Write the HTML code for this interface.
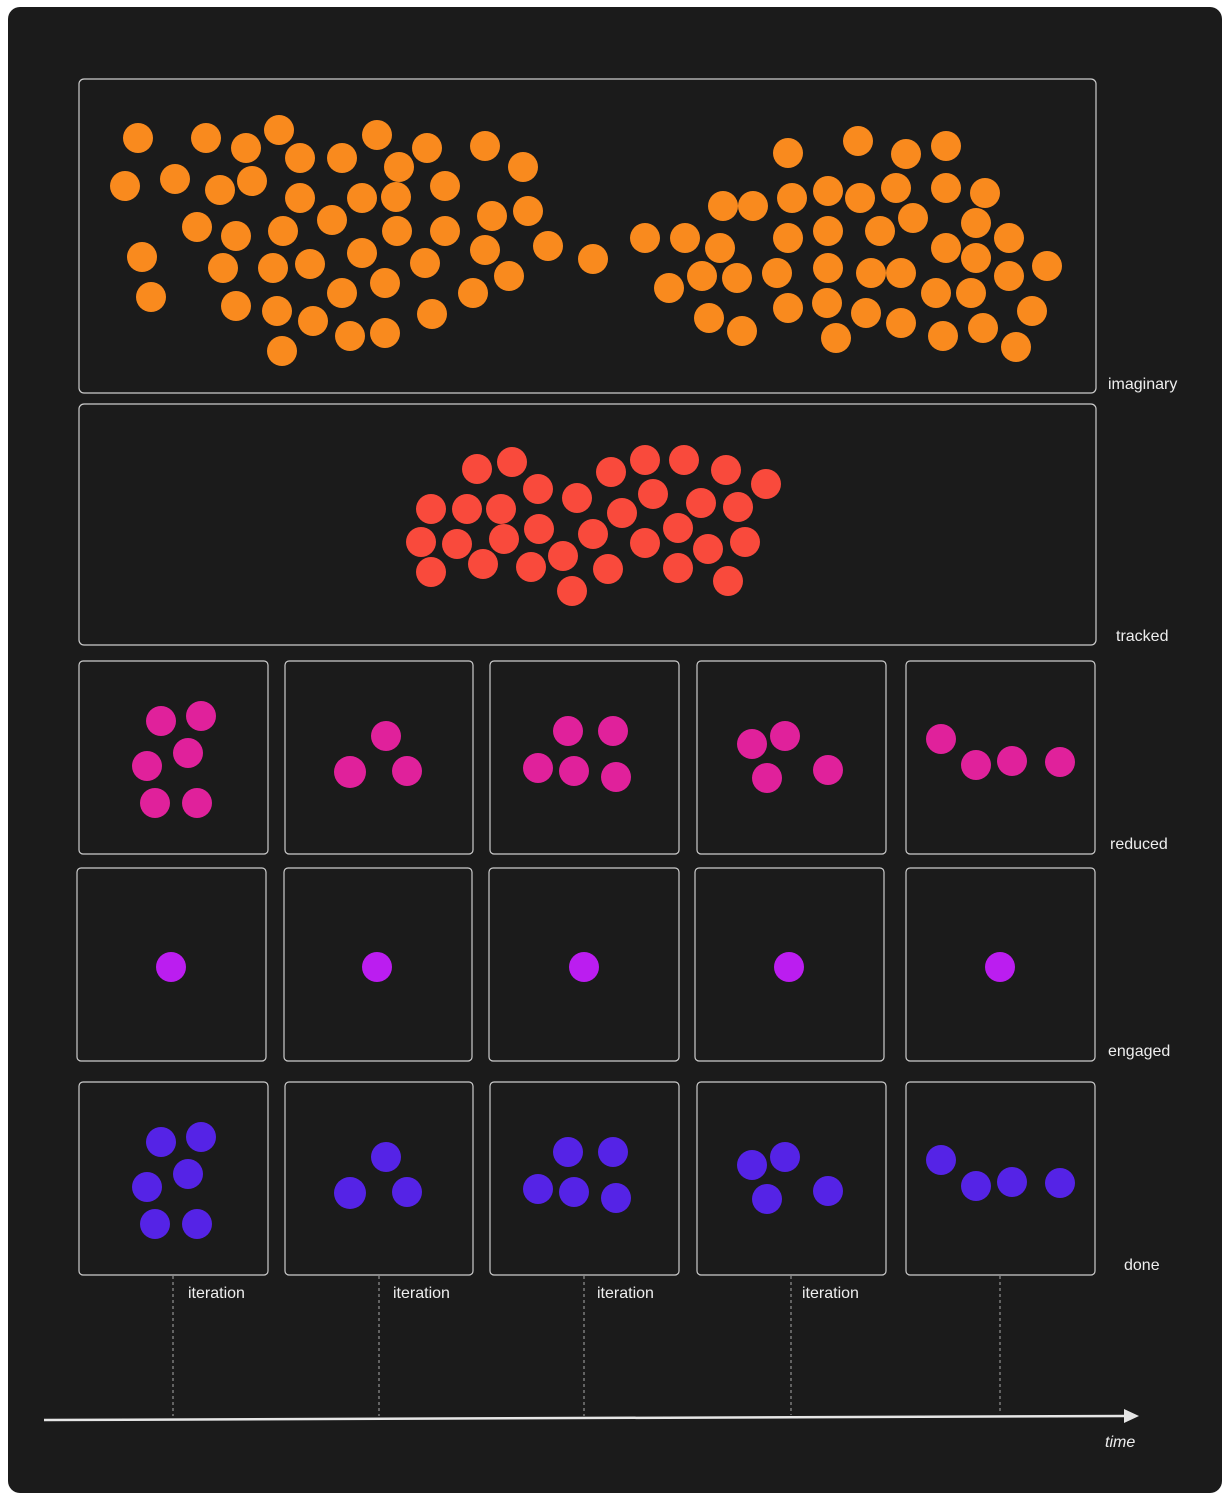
<!DOCTYPE html><html><head><style>body{margin:0;background:#fff}svg{display:block}text{font-family:"Liberation Sans",sans-serif;fill:#eee;font-size:16px}</style></head><body>
<svg width="1227" height="1497" viewBox="0 0 1227 1497">
<rect x="8" y="7" width="1214" height="1486" rx="12" fill="#1b1b1b"/>
<g fill="none" stroke="#ccc" stroke-width="1.2">
<rect x="79" y="79" width="1017" height="314" rx="5"/>
<rect x="79" y="404" width="1017" height="241" rx="5"/>
<rect x="79" y="661" width="189" height="193" rx="4"/><rect x="285" y="661" width="188" height="193" rx="4"/><rect x="490" y="661" width="189" height="193" rx="4"/><rect x="697" y="661" width="189" height="193" rx="4"/><rect x="906" y="661" width="189" height="193" rx="4"/>
<rect x="77" y="868" width="189" height="193" rx="4"/><rect x="284" y="868" width="188" height="193" rx="4"/><rect x="489" y="868" width="190" height="193" rx="4"/><rect x="695" y="868" width="189" height="193" rx="4"/><rect x="906" y="868" width="189" height="193" rx="4"/>
<rect x="79" y="1082" width="189" height="193" rx="4"/><rect x="285" y="1082" width="188" height="193" rx="4"/><rect x="490" y="1082" width="189" height="193" rx="4"/><rect x="697" y="1082" width="189" height="193" rx="4"/><rect x="906" y="1082" width="189" height="193" rx="4"/>
</g>
<g fill="#f98a1e">
<circle cx="138" cy="138" r="15"/><circle cx="206" cy="138" r="15"/><circle cx="246" cy="148" r="15"/><circle cx="279" cy="130" r="15"/><circle cx="300" cy="158" r="15"/><circle cx="342" cy="158" r="15"/><circle cx="377" cy="135" r="15"/><circle cx="399" cy="167" r="15"/><circle cx="427" cy="148" r="15"/><circle cx="485" cy="146" r="15"/><circle cx="523" cy="167" r="15"/><circle cx="125" cy="186" r="15"/><circle cx="175" cy="179" r="15"/><circle cx="220" cy="190" r="15"/><circle cx="252" cy="181" r="15"/><circle cx="300" cy="198" r="15"/><circle cx="362" cy="198" r="15"/><circle cx="396" cy="197" r="15"/><circle cx="445" cy="186" r="15"/><circle cx="197" cy="227" r="15"/><circle cx="236" cy="236" r="15"/><circle cx="283" cy="231" r="15"/><circle cx="332" cy="220" r="15"/><circle cx="397" cy="231" r="15"/><circle cx="445" cy="231" r="15"/><circle cx="492" cy="216" r="15"/><circle cx="528" cy="211" r="15"/><circle cx="142" cy="257" r="15"/><circle cx="223" cy="268" r="15"/><circle cx="273" cy="268" r="15"/><circle cx="310" cy="264" r="15"/><circle cx="362" cy="253" r="15"/><circle cx="425" cy="263" r="15"/><circle cx="485" cy="250" r="15"/><circle cx="548" cy="246" r="15"/><circle cx="593" cy="259" r="15"/><circle cx="151" cy="297" r="15"/><circle cx="236" cy="306" r="15"/><circle cx="277" cy="311" r="15"/><circle cx="313" cy="321" r="15"/><circle cx="342" cy="293" r="15"/><circle cx="385" cy="283" r="15"/><circle cx="350" cy="336" r="15"/><circle cx="385" cy="333" r="15"/><circle cx="432" cy="314" r="15"/><circle cx="473" cy="293" r="15"/><circle cx="509" cy="276" r="15"/><circle cx="282" cy="351" r="15"/>
<circle cx="788" cy="153" r="15"/><circle cx="858" cy="141" r="15"/><circle cx="906" cy="154" r="15"/><circle cx="946" cy="146" r="15"/><circle cx="723" cy="206" r="15"/><circle cx="753" cy="206" r="15"/><circle cx="792" cy="198" r="15"/><circle cx="828" cy="191" r="15"/><circle cx="860" cy="198" r="15"/><circle cx="896" cy="188" r="15"/><circle cx="946" cy="188" r="15"/><circle cx="985" cy="193" r="15"/><circle cx="645" cy="238" r="15"/><circle cx="685" cy="238" r="15"/><circle cx="720" cy="248" r="15"/><circle cx="788" cy="238" r="15"/><circle cx="828" cy="231" r="15"/><circle cx="880" cy="231" r="15"/><circle cx="913" cy="218" r="15"/><circle cx="976" cy="223" r="15"/><circle cx="1009" cy="238" r="15"/><circle cx="946" cy="248" r="15"/><circle cx="702" cy="276" r="15"/><circle cx="737" cy="278" r="15"/><circle cx="777" cy="273" r="15"/><circle cx="828" cy="268" r="15"/><circle cx="871" cy="273" r="15"/><circle cx="901" cy="273" r="15"/><circle cx="976" cy="258" r="15"/><circle cx="1009" cy="276" r="15"/><circle cx="1047" cy="266" r="15"/><circle cx="669" cy="288" r="15"/><circle cx="709" cy="318" r="15"/><circle cx="742" cy="331" r="15"/><circle cx="788" cy="308" r="15"/><circle cx="827" cy="303" r="15"/><circle cx="866" cy="313" r="15"/><circle cx="901" cy="323" r="15"/><circle cx="936" cy="293" r="15"/><circle cx="971" cy="293" r="15"/><circle cx="943" cy="336" r="15"/><circle cx="983" cy="328" r="15"/><circle cx="1016" cy="347" r="15"/><circle cx="1032" cy="311" r="15"/><circle cx="836" cy="338" r="15"/>
</g>
<g fill="#f94a3c">
<circle cx="477" cy="469" r="15"/><circle cx="512" cy="462" r="15"/><circle cx="538" cy="489" r="15"/><circle cx="577" cy="498" r="15"/><circle cx="611" cy="472" r="15"/><circle cx="645" cy="460" r="15"/><circle cx="684" cy="460" r="15"/><circle cx="726" cy="470" r="15"/><circle cx="766" cy="484" r="15"/><circle cx="431" cy="509" r="15"/><circle cx="467" cy="509" r="15"/><circle cx="501" cy="509" r="15"/><circle cx="653" cy="494" r="15"/><circle cx="622" cy="513" r="15"/><circle cx="701" cy="503" r="15"/><circle cx="738" cy="507" r="15"/><circle cx="421" cy="542" r="15"/><circle cx="457" cy="544" r="15"/><circle cx="504" cy="539" r="15"/><circle cx="539" cy="529" r="15"/><circle cx="593" cy="534" r="15"/><circle cx="645" cy="543" r="15"/><circle cx="678" cy="528" r="15"/><circle cx="708" cy="549" r="15"/><circle cx="745" cy="542" r="15"/><circle cx="431" cy="572" r="15"/><circle cx="483" cy="564" r="15"/><circle cx="531" cy="567" r="15"/><circle cx="563" cy="556" r="15"/><circle cx="608" cy="569" r="15"/><circle cx="678" cy="568" r="15"/><circle cx="728" cy="581" r="15"/><circle cx="572" cy="591" r="15"/>
</g>
<g fill="#e0219b">
<circle cx="161" cy="721" r="15"/><circle cx="201" cy="716" r="15"/><circle cx="147" cy="766" r="15"/><circle cx="188" cy="753" r="15"/><circle cx="155" cy="803" r="15"/><circle cx="197" cy="803" r="15"/>
<circle cx="386" cy="736" r="15"/><circle cx="350" cy="772" r="16"/><circle cx="407" cy="771" r="15"/>
<circle cx="568" cy="731" r="15"/><circle cx="613" cy="731" r="15"/><circle cx="538" cy="768" r="15"/><circle cx="574" cy="771" r="15"/><circle cx="616" cy="777" r="15"/>
<circle cx="785" cy="736" r="15"/><circle cx="752" cy="744" r="15"/><circle cx="767" cy="778" r="15"/><circle cx="828" cy="770" r="15"/>
<circle cx="941" cy="739" r="15"/><circle cx="976" cy="765" r="15"/><circle cx="1012" cy="761" r="15"/><circle cx="1060" cy="762" r="15"/>
</g>
<g fill="#5523e6" transform="translate(0,421)">
<circle cx="161" cy="721" r="15"/><circle cx="201" cy="716" r="15"/><circle cx="147" cy="766" r="15"/><circle cx="188" cy="753" r="15"/><circle cx="155" cy="803" r="15"/><circle cx="197" cy="803" r="15"/>
<circle cx="386" cy="736" r="15"/><circle cx="350" cy="772" r="16"/><circle cx="407" cy="771" r="15"/>
<circle cx="568" cy="731" r="15"/><circle cx="613" cy="731" r="15"/><circle cx="538" cy="768" r="15"/><circle cx="574" cy="771" r="15"/><circle cx="616" cy="777" r="15"/>
<circle cx="785" cy="736" r="15"/><circle cx="752" cy="744" r="15"/><circle cx="767" cy="778" r="15"/><circle cx="828" cy="770" r="15"/>
<circle cx="941" cy="739" r="15"/><circle cx="976" cy="765" r="15"/><circle cx="1012" cy="761" r="15"/><circle cx="1060" cy="762" r="15"/>
</g>
<g fill="#bb1df0">
<circle cx="171" cy="967" r="15"/><circle cx="377" cy="967" r="15"/><circle cx="584" cy="967" r="15"/><circle cx="789" cy="967" r="15"/><circle cx="1000" cy="967" r="15"/>
</g>
<g stroke="#aaa" stroke-width="1" stroke-dasharray="3,3">
<line x1="173" y1="1276" x2="173" y2="1416"/><line x1="379" y1="1276" x2="379" y2="1416"/><line x1="584" y1="1276" x2="584" y2="1416"/><line x1="791" y1="1276" x2="791" y2="1415"/><line x1="1000" y1="1276" x2="1000" y2="1414"/>
</g>
<line x1="44" y1="1420" x2="1126" y2="1416" stroke="#e6e6e6" stroke-width="2.5"/>
<polygon points="1124,1409 1139,1416 1124,1423" fill="#e6e6e6"/>
<text x="1108" y="389">imaginary</text>
<text x="1116" y="641">tracked</text>
<text x="1110" y="849">reduced</text>
<text x="1108" y="1056">engaged</text>
<text x="1124" y="1270">done</text>
<text x="188" y="1298">iteration</text><text x="393" y="1298">iteration</text><text x="597" y="1298">iteration</text><text x="802" y="1298">iteration</text>
<text x="1105" y="1447" font-style="italic">time</text>
</svg></body></html>
